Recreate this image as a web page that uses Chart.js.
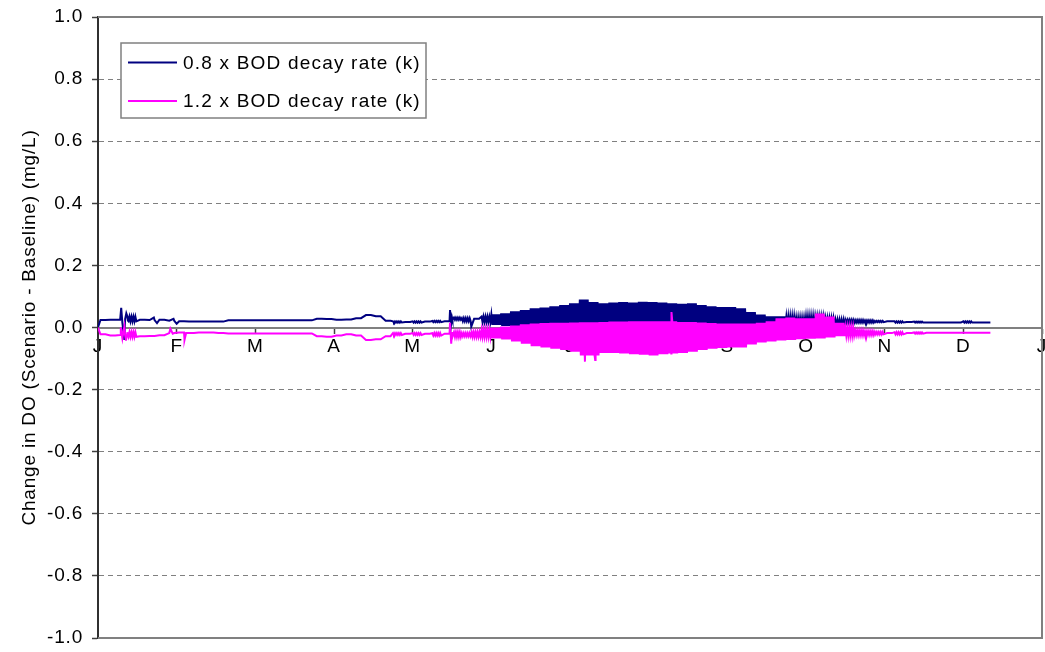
<!DOCTYPE html>
<html>
<head>
<meta charset="utf-8">
<script src="https://cdn.jsdelivr.net/npm/chart.js@4.4.1/dist/chart.umd.min.js"></script>
<style>
html,body{margin:0;padding:0;background:#ffffff;}
#wrap{width:1045px;height:652px;position:relative;}
canvas{display:block;}
</style>
</head>
<body>
<div id="wrap"><canvas id="c" width="1045" height="652"></canvas></div>
<script>
// ---- data ----
const monthLabels = ['J','F','M','A','M','J','J','A','S','O','N','D','J'];
const seriesNames = ['0.8 x BOD decay rate (k)', '1.2 x BOD decay rate (k)'];
const yTitle = 'Change in DO (Scenario - Baseline) (mg/L)';
const startValues = [0.0, 0.0];
// each entry covers 1/8 of a month; hi/lo = range of the daily swing in that interval
const stepsPerMonth = 8;
const blueHi = [
 .024,.025,.025,.035,.025,.024,.025,.022, .020,.019,.019,.019,.019,.023,.023,.023,
 .023,.023,.023,.023,.023,.023,.028,.027, .025,.026,.030,.040,.036,.022,.020,.018,
 .020,.019,.021,.020,.032,.030,.028,.035, .042,.046,.052,.056,.062,.064,.068,.072,
 .078,.090,.082,.078,.080,.082,.080,.083, .082,.080,.078,.076,.078,.072,.068,.066,
 .066,.062,.050,.042,.036,.036,.034,.030, .034,.032,.028,.024,.025,.024,.023,.021,
 .020,.020,.018,.019,.016,.016,.016,.016, .020,.016,.016
];
const blueLo = [
 .024,.025,.025,.020,.025,.024,.025,.022, .020,.019,.019,.019,.019,.023,.023,.023,
 .023,.023,.023,.023,.023,.023,.028,.027, .025,.026,.030,.040,.036,.022,.016,.018,
 .016,.019,.017,.020,.025,.020,.028,.018, .008,.005,.004,.003,.003,.003,.003,.003,
 .003,.003,.003,.003,.003,.003,.003,.003, .003,.003,.003,.003,.003,.003,.003,.003,
 .003,.003,.003,.003,.003,.003,.003,.003, .003,.003,.003,.005,.015,.016,.016,.017,
 .020,.016,.018,.016,.016,.016,.016,.016, .016,.016,.016
];
const pinkHi = [
 -.022,-.026,-.024,-.015,-.028,-.027,-.025,-.018, -.016,-.018,-.016,-.016,-.018,-.019,-.019,-.019,
 -.019,-.019,-.019,-.019,-.019,-.019,-.028,-.030, -.026,-.022,-.026,-.040,-.038,-.028,-.018,-.020,
 -.018,-.020,-.018,-.020,-.015,-.018,-.015,-.008, .000,.003,.006,.010,.013,.014,.015,.015,
 .016,.017,.017,.018,.019,.019,.020,.020, .020,.020,.020,.018,.018,.016,.014,.013,
 .013,.013,.013,.015,.020,.030,.032,.030, .030,.045,.035,.015,.000,-.010,-.012,-.014,
 -.018,-.015,-.018,-.016,-.017,-.017,-.017,-.017, -.017,-.017,-.017
];
const pinkLo = [
 -.022,-.026,-.024,-.030,-.028,-.027,-.025,-.018, -.016,-.018,-.016,-.016,-.018,-.019,-.019,-.019,
 -.019,-.019,-.019,-.019,-.019,-.019,-.028,-.030, -.026,-.022,-.026,-.040,-.038,-.028,-.024,-.020,
 -.024,-.020,-.026,-.020,-.030,-.028,-.030,-.030, -.035,-.038,-.045,-.052,-.060,-.064,-.068,-.072,
 -.078,-.090,-.090,-.082,-.082,-.084,-.086,-.088, -.090,-.086,-.084,-.082,-.078,-.072,-.068,-.066,
 -.064,-.064,-.055,-.048,-.045,-.042,-.040,-.038, -.036,-.035,-.032,-.028,-.026,-.025,-.024,-.022,
 -.018,-.022,-.018,-.020,-.017,-.017,-.017,-.017, -.017,-.017,-.017
];
// isolated spikes: [month position, value]
const blueSpikes = [
 [0.295, .063], [0.31, .015], [0.335, -.040], [0.36, .046], [0.38, .022],
 [0.71, .032], [0.75, .014], [0.96, .028], [1.00, .012],
 [4.475, .056], [4.49, .012], [4.50, .030],
 [4.745, .003]
];
const pinkSpikes = [
 [0.29, .000], [0.31, -.035], [0.335, .003], [0.355, -.042], [0.375, -.020],
 [0.92, -.004], [0.95, -.020], [1.10, -.040], [1.12, -.018],
 [4.475, .015], [4.49, -.052], [4.50, -.020],
 [6.19, -.110], [6.32, -.105],
 [7.29, .050]
];

// build the line points: flat intervals as a level line, swinging intervals as a zig-zag hi/lo
function buildPoints(start, hi, lo, spikes) {
  const pts = [{x: 0, y: start}];
  const sub = 10;
  for (let i = 0; i < hi.length; i++) {
    const x0 = i / stepsPerMonth;
    if (hi[i] === lo[i]) {
      pts.push({x: x0 + 0.25 / stepsPerMonth, y: hi[i]});
      pts.push({x: x0 + 0.75 / stepsPerMonth, y: hi[i]});
    } else {
      for (let k = 0; k < sub; k++) {
        pts.push({x: x0 + k / (sub * stepsPerMonth), y: (k % 2 === 0) ? hi[i] : lo[i]});
      }
    }
  }
  spikes.forEach(([x, y]) => pts.push({x: x, y: y}));
  pts.sort((a, b) => a.x - b.x);
  return pts;
}

const FONT_FAMILY = '"Liberation Sans", Arial, Helvetica, sans-serif';
const tickFontY = {family: FONT_FAMILY, size: 19, lineHeight: 0.5};
const tickFontX = {family: FONT_FAMILY, size: 19, lineHeight: 1.2};
const titleFont = {family: FONT_FAMILY, size: 19};

const spacingPlugin = {
  id: 'spacing',
  beforeUpdate(chart) { chart.ctx.letterSpacing = '0.8px'; },
  beforeDraw(chart) { chart.ctx.letterSpacing = '0.8px'; }
};

const framePlugin = {
  id: 'frameAndLegend',
  afterDraw(chart) {
    const ctx = chart.ctx;
    const a = chart.chartArea;
    ctx.save();
    // plot frame (top, right, bottom)
    ctx.strokeStyle = '#808080';
    ctx.lineWidth = 2;
    ctx.beginPath();
    ctx.moveTo(a.left, a.top);
    ctx.lineTo(a.right, a.top);
    ctx.lineTo(a.right, a.bottom);
    ctx.lineTo(a.left, a.bottom);
    ctx.stroke();
    // legend box
    const lx = a.left + 23, ly = a.top + 26, lw = 305, lh = 75;
    ctx.fillStyle = '#ffffff';
    ctx.fillRect(lx, ly, lw, lh);
    ctx.strokeStyle = '#808080';
    ctx.lineWidth = 1.5;
    ctx.strokeRect(lx, ly, lw, lh);
    ctx.font = '19px ' + FONT_FAMILY;
    ctx.letterSpacing = '1.2px';
    ctx.textBaseline = 'middle';
    ctx.textAlign = 'left';
    chart.data.datasets.forEach((ds, i) => {
      const cy = ly + 19.5 + i * 38.5;
      ctx.strokeStyle = ds.borderColor;
      ctx.lineWidth = 2;
      ctx.beginPath();
      ctx.moveTo(lx + 7, cy);
      ctx.lineTo(lx + 56, cy);
      ctx.stroke();
      ctx.fillStyle = '#000000';
      ctx.fillText(ds.label, lx + 62, cy + 1);
    });
    ctx.restore();
  }
};

const chart = new Chart(document.getElementById('c'), {
  type: 'line',
  data: {
    datasets: [
      {
        label: seriesNames[0],
        data: buildPoints(startValues[0], blueHi, blueLo, blueSpikes),
        borderColor: '#000080',
        backgroundColor: '#000080',
        borderWidth: 2,
        pointRadius: 0,
        tension: 0,
        fill: false,
        order: 1
      },
      {
        label: seriesNames[1],
        data: buildPoints(startValues[1], pinkHi, pinkLo, pinkSpikes),
        borderColor: '#FF00FF',
        backgroundColor: '#FF00FF',
        borderWidth: 2,
        pointRadius: 0,
        tension: 0,
        fill: false,
        order: 0
      }
    ]
  },
  options: {
    responsive: false,
    animation: false,
    events: [],
    layout: {padding: {top: 17, right: 3, bottom: 14, left: 0}},
    plugins: {legend: {display: false}, tooltip: {enabled: false}},
    scales: {
      x: {
        type: 'linear',
        position: {y: 0},
        min: 0,
        max: 12,
        ticks: {
          stepSize: 1,
          autoSkip: false,
          maxRotation: 0,
          color: '#000000',
          font: tickFontX,
          padding: 3,
          callback: (v) => monthLabels[Math.round(v)]
        },
        grid: {drawOnChartArea: false, drawTicks: true, tickLength: 5, tickColor: '#404040', tickWidth: 1.5},
        border: {display: true, color: '#808080', width: 2},
        afterFit: (s) => { s.paddingLeft = 0; s.paddingRight = 0; s.paddingTop = 0; s.paddingBottom = 0; }
      },
      y: {
        min: -1,
        max: 1,
        ticks: {
          stepSize: 0.2,
          color: '#000000',
          font: tickFontY,
          padding: 9,
          callback: (v) => (Math.abs(v) < 1e-9 ? 0 : v).toFixed(1)
        },
        grid: {color: '#808080', lineWidth: 1, tickLength: 6, tickColor: '#404040', tickWidth: 1.5},
        border: {display: true, color: '#303030', width: 2, dash: [5, 4]},
        title: {
          display: true,
          text: yTitle,
          color: '#000000',
          font: titleFont,
          padding: {top: 18, bottom: 0}
        },
        afterFit: (s) => { s.width = 98; s.paddingTop = 0; s.paddingBottom = 0; }
      }
    }
  },
  plugins: [spacingPlugin, framePlugin]
});
</script>
</body>
</html>
